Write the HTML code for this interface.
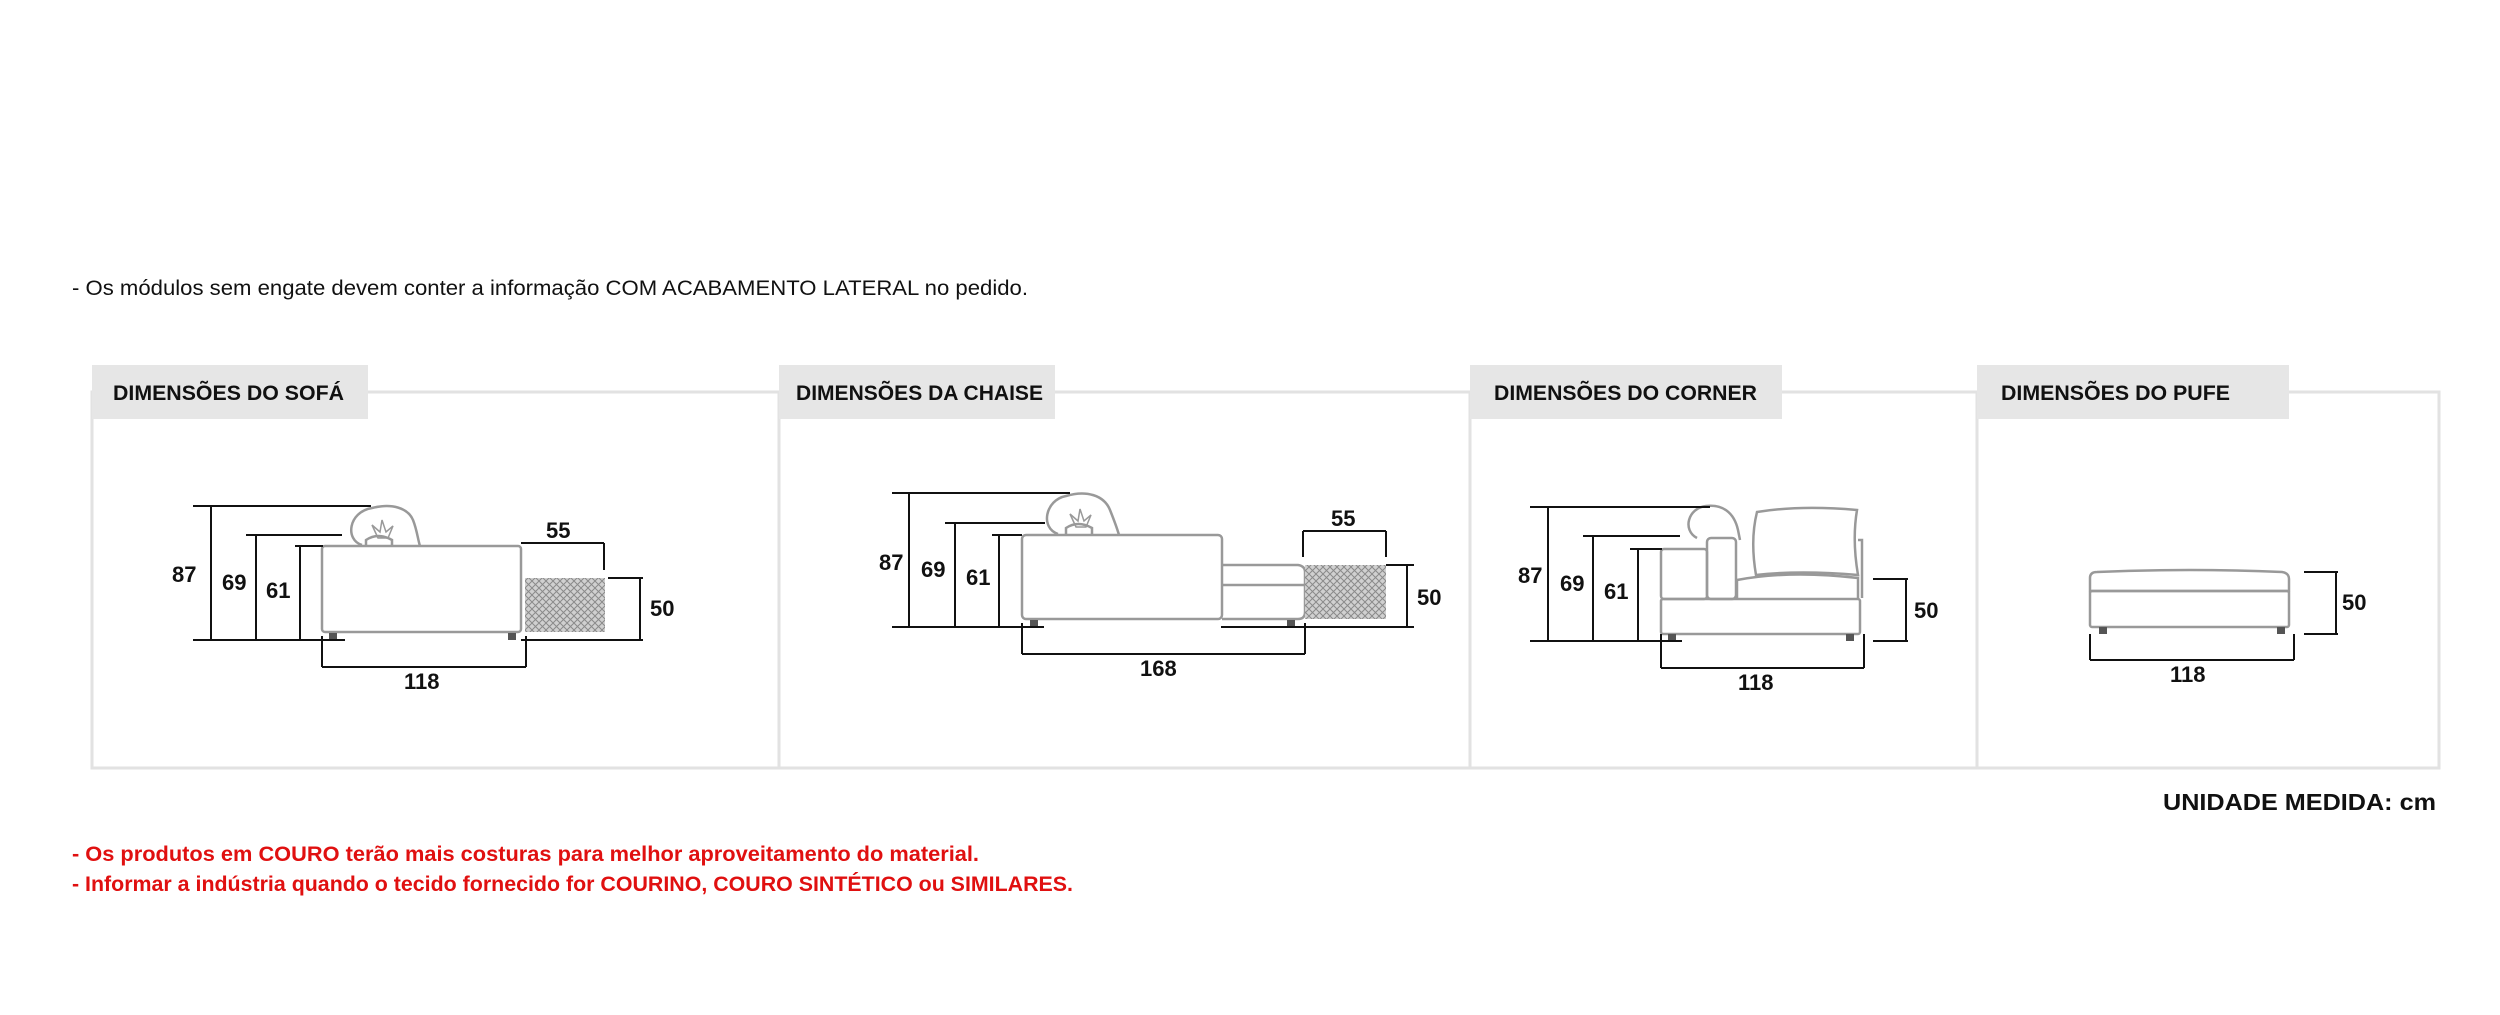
<!DOCTYPE html>
<html><head><meta charset="utf-8"><style>
html,body{margin:0;padding:0;background:#fff;}
svg{display:block;}
.t{font-family:"Liberation Sans",sans-serif;}
.d{font-family:"Liberation Sans",sans-serif;font-weight:bold;font-size:22px;fill:#111;}
.h{font-family:"Liberation Sans",sans-serif;font-weight:bold;font-size:21px;fill:#111;}
.f{fill:none;stroke:#999;stroke-width:2.5;}
.k{stroke:#111;stroke-width:2;fill:none;}
</style></head><body>
<svg width="2500" height="1015" viewBox="0 0 2500 1015" xmlns="http://www.w3.org/2000/svg">
<defs>
<pattern id="hp" width="7" height="7" patternUnits="userSpaceOnUse">
<rect width="7" height="7" fill="#d0d0d0"/>
<path d="M0 0L7 7M7 0L0 7" stroke="#8a8a8a" stroke-width="1"/>
</pattern>
</defs>
<text class="t" x="72" y="295" font-size="21" fill="#111" textLength="956" lengthAdjust="spacingAndGlyphs">- Os módulos sem engate devem conter a informação COM ACABAMENTO LATERAL no pedido.</text>

<rect x="92" y="392" width="2347" height="376" fill="none" stroke="#e2e2e2" stroke-width="3"/>
<line x1="779" y1="392" x2="779" y2="768" stroke="#e2e2e2" stroke-width="3"/>
<line x1="1470" y1="392" x2="1470" y2="768" stroke="#e2e2e2" stroke-width="3"/>
<line x1="1977" y1="392" x2="1977" y2="768" stroke="#e2e2e2" stroke-width="3"/>
<rect x="92" y="365" width="276" height="54" fill="#e6e6e6"/>
<rect x="779" y="365" width="276" height="54" fill="#e6e6e6"/>
<rect x="1470" y="365" width="312" height="54" fill="#e6e6e6"/>
<rect x="1977" y="365" width="312" height="54" fill="#e6e6e6"/>
<text class="h" x="113" y="400" textLength="231" lengthAdjust="spacingAndGlyphs">DIMENSÕES DO SOFÁ</text>
<text class="h" x="796" y="400" textLength="247" lengthAdjust="spacingAndGlyphs">DIMENSÕES DA CHAISE</text>
<text class="h" x="1494" y="400" textLength="263" lengthAdjust="spacingAndGlyphs">DIMENSÕES DO CORNER</text>
<text class="h" x="2001" y="400" textLength="229" lengthAdjust="spacingAndGlyphs">DIMENSÕES DO PUFE</text>

<g>
<path class="f" d="M362 545 C345 540 348 512 372 508 C392 503 408 508 413 520 C417 530 418 540 420 546"/>
<path class="f" d="M366 546 L366 540 Q378 532 392 540 L392 546"/>
<path d="M378 538 L372 525 L380 532 L382 520 L386 532 L393 526 L388 538Z" fill="none" stroke="#999" stroke-width="1.5"/>
<rect class="f" x="322" y="546" width="199" height="86" rx="3"/>
<rect x="525" y="578" width="80" height="54" fill="url(#hp)"/>
<rect x="329" y="633" width="8" height="7" fill="#555"/><rect x="508" y="633" width="8" height="7" fill="#555"/>
<path class="k" d="M193 506H371M246 535H342M295 546H323M193 640H345M211 506V640M256 535V640M300 546V640"/>
<path class="k" d="M521 543H604M604 543V570M608 578H643M521 640H643M640 578V640M322 636V667M526 636V667M322 667H526"/>
<text class="d" x="172" y="582">87</text><text class="d" x="222" y="590">69</text><text class="d" x="266" y="598">61</text>
<text class="d" x="546" y="538">55</text><text class="d" x="650" y="616">50</text><text class="d" x="404" y="689">118</text>
</g>

<g>
<path class="f" d="M1058 534 C1040 528 1045 500 1066 496 C1086 490 1104 495 1110 510 C1114 520 1117 528 1119 535"/>
<path class="f" d="M1066 535 L1066 528 Q1078 520 1092 528 L1092 535"/>
<path d="M1076 527 L1070 514 L1078 521 L1080 509 L1084 521 L1091 515 L1086 527Z" fill="none" stroke="#999" stroke-width="1.5"/>
<rect class="f" x="1022" y="535" width="200" height="84" rx="4"/>
<path class="f" d="M1222 565 H1298 Q1305 566 1305 572 V612 Q1305 619 1298 619 H1222 M1222 585 H1305"/>
<rect x="1305" y="565" width="81" height="54" fill="url(#hp)"/>
<rect x="1030" y="620" width="8" height="7" fill="#555"/><rect x="1287" y="620" width="8" height="7" fill="#555"/>
<path class="k" d="M892 493H1070M945 523H1045M992 535H1022M892 627H1044M1221 627H1414M909 493V627M955 523V627M999 535V627"/>
<path class="k" d="M1303 531H1386M1303 531V557M1386 531V557M1386 565H1414M1407 565V627M1022 623V654M1305 623V654M1022 654H1305"/>
<text class="d" x="879" y="570">87</text><text class="d" x="921" y="577">69</text><text class="d" x="966" y="585">61</text>
<text class="d" x="1331" y="526">55</text><text class="d" x="1417" y="605">50</text><text class="d" x="1140" y="676">168</text>
</g>

<g>
<rect class="f" x="1661" y="599" width="199" height="35" rx="2"/>
<rect class="f" x="1661" y="549" width="46" height="50" rx="3"/>
<rect class="f" x="1707" y="538" width="29" height="61" rx="4"/>
<path class="f" d="M1737 599 V580 Q1790 570 1858 578 V599"/>
<path class="f" d="M1756 575 Q1750 540 1757 512 Q1800 505 1857 510 Q1852 540 1858 575 Q1800 570 1756 575Z"/>
<path class="f" d="M1858 540 H1862 V598"/>
<path class="f" d="M1697 538 C1682 530 1688 508 1706 506 C1722 504 1734 512 1738 530 L1740 540"/>
<rect x="1668" y="634" width="8" height="7" fill="#555"/><rect x="1846" y="634" width="8" height="7" fill="#555"/>
<path class="k" d="M1530 507H1710M1583 536H1680M1630 549H1662M1530 641H1682M1548 507V641M1593 536V641M1638 549V641"/>
<path class="k" d="M1873 579H1908M1906 579V641M1873 641H1908M1661 634V668M1864 634V668M1661 668H1864"/>
<text class="d" x="1518" y="583">87</text><text class="d" x="1560" y="591">69</text><text class="d" x="1604" y="599">61</text>
<text class="d" x="1914" y="618">50</text><text class="d" x="1738" y="690">118</text>
</g>

<g>
<path class="f" d="M2090 591 V578 Q2090 572 2097 572 Q2190 568 2282 572 Q2289 573 2289 579 V591 Z"/>
<rect class="f" x="2090" y="591" width="199" height="36" rx="2"/>
<rect x="2099" y="627" width="8" height="7" fill="#555"/><rect x="2277" y="627" width="8" height="7" fill="#555"/>
<path class="k" d="M2304 572H2338M2336 572V634M2304 634H2338M2090 634V660M2294 634V660M2090 660H2294"/>
<text class="d" x="2342" y="610">50</text><text class="d" x="2170" y="682">118</text>
</g>

<text class="t" x="2163" y="810" font-size="23" font-weight="bold" fill="#111" textLength="273" lengthAdjust="spacingAndGlyphs">UNIDADE MEDIDA: cm</text>
<text class="t" x="72" y="861" font-size="21" font-weight="bold" fill="#e01010" textLength="907" lengthAdjust="spacingAndGlyphs">- Os produtos em COURO terão mais costuras para melhor aproveitamento do material.</text>
<text class="t" x="72" y="891" font-size="21" font-weight="bold" fill="#e01010" textLength="1001" lengthAdjust="spacingAndGlyphs">- Informar a indústria quando o tecido fornecido for COURINO, COURO SINTÉTICO ou SIMILARES.</text>
</svg>
</body></html>
